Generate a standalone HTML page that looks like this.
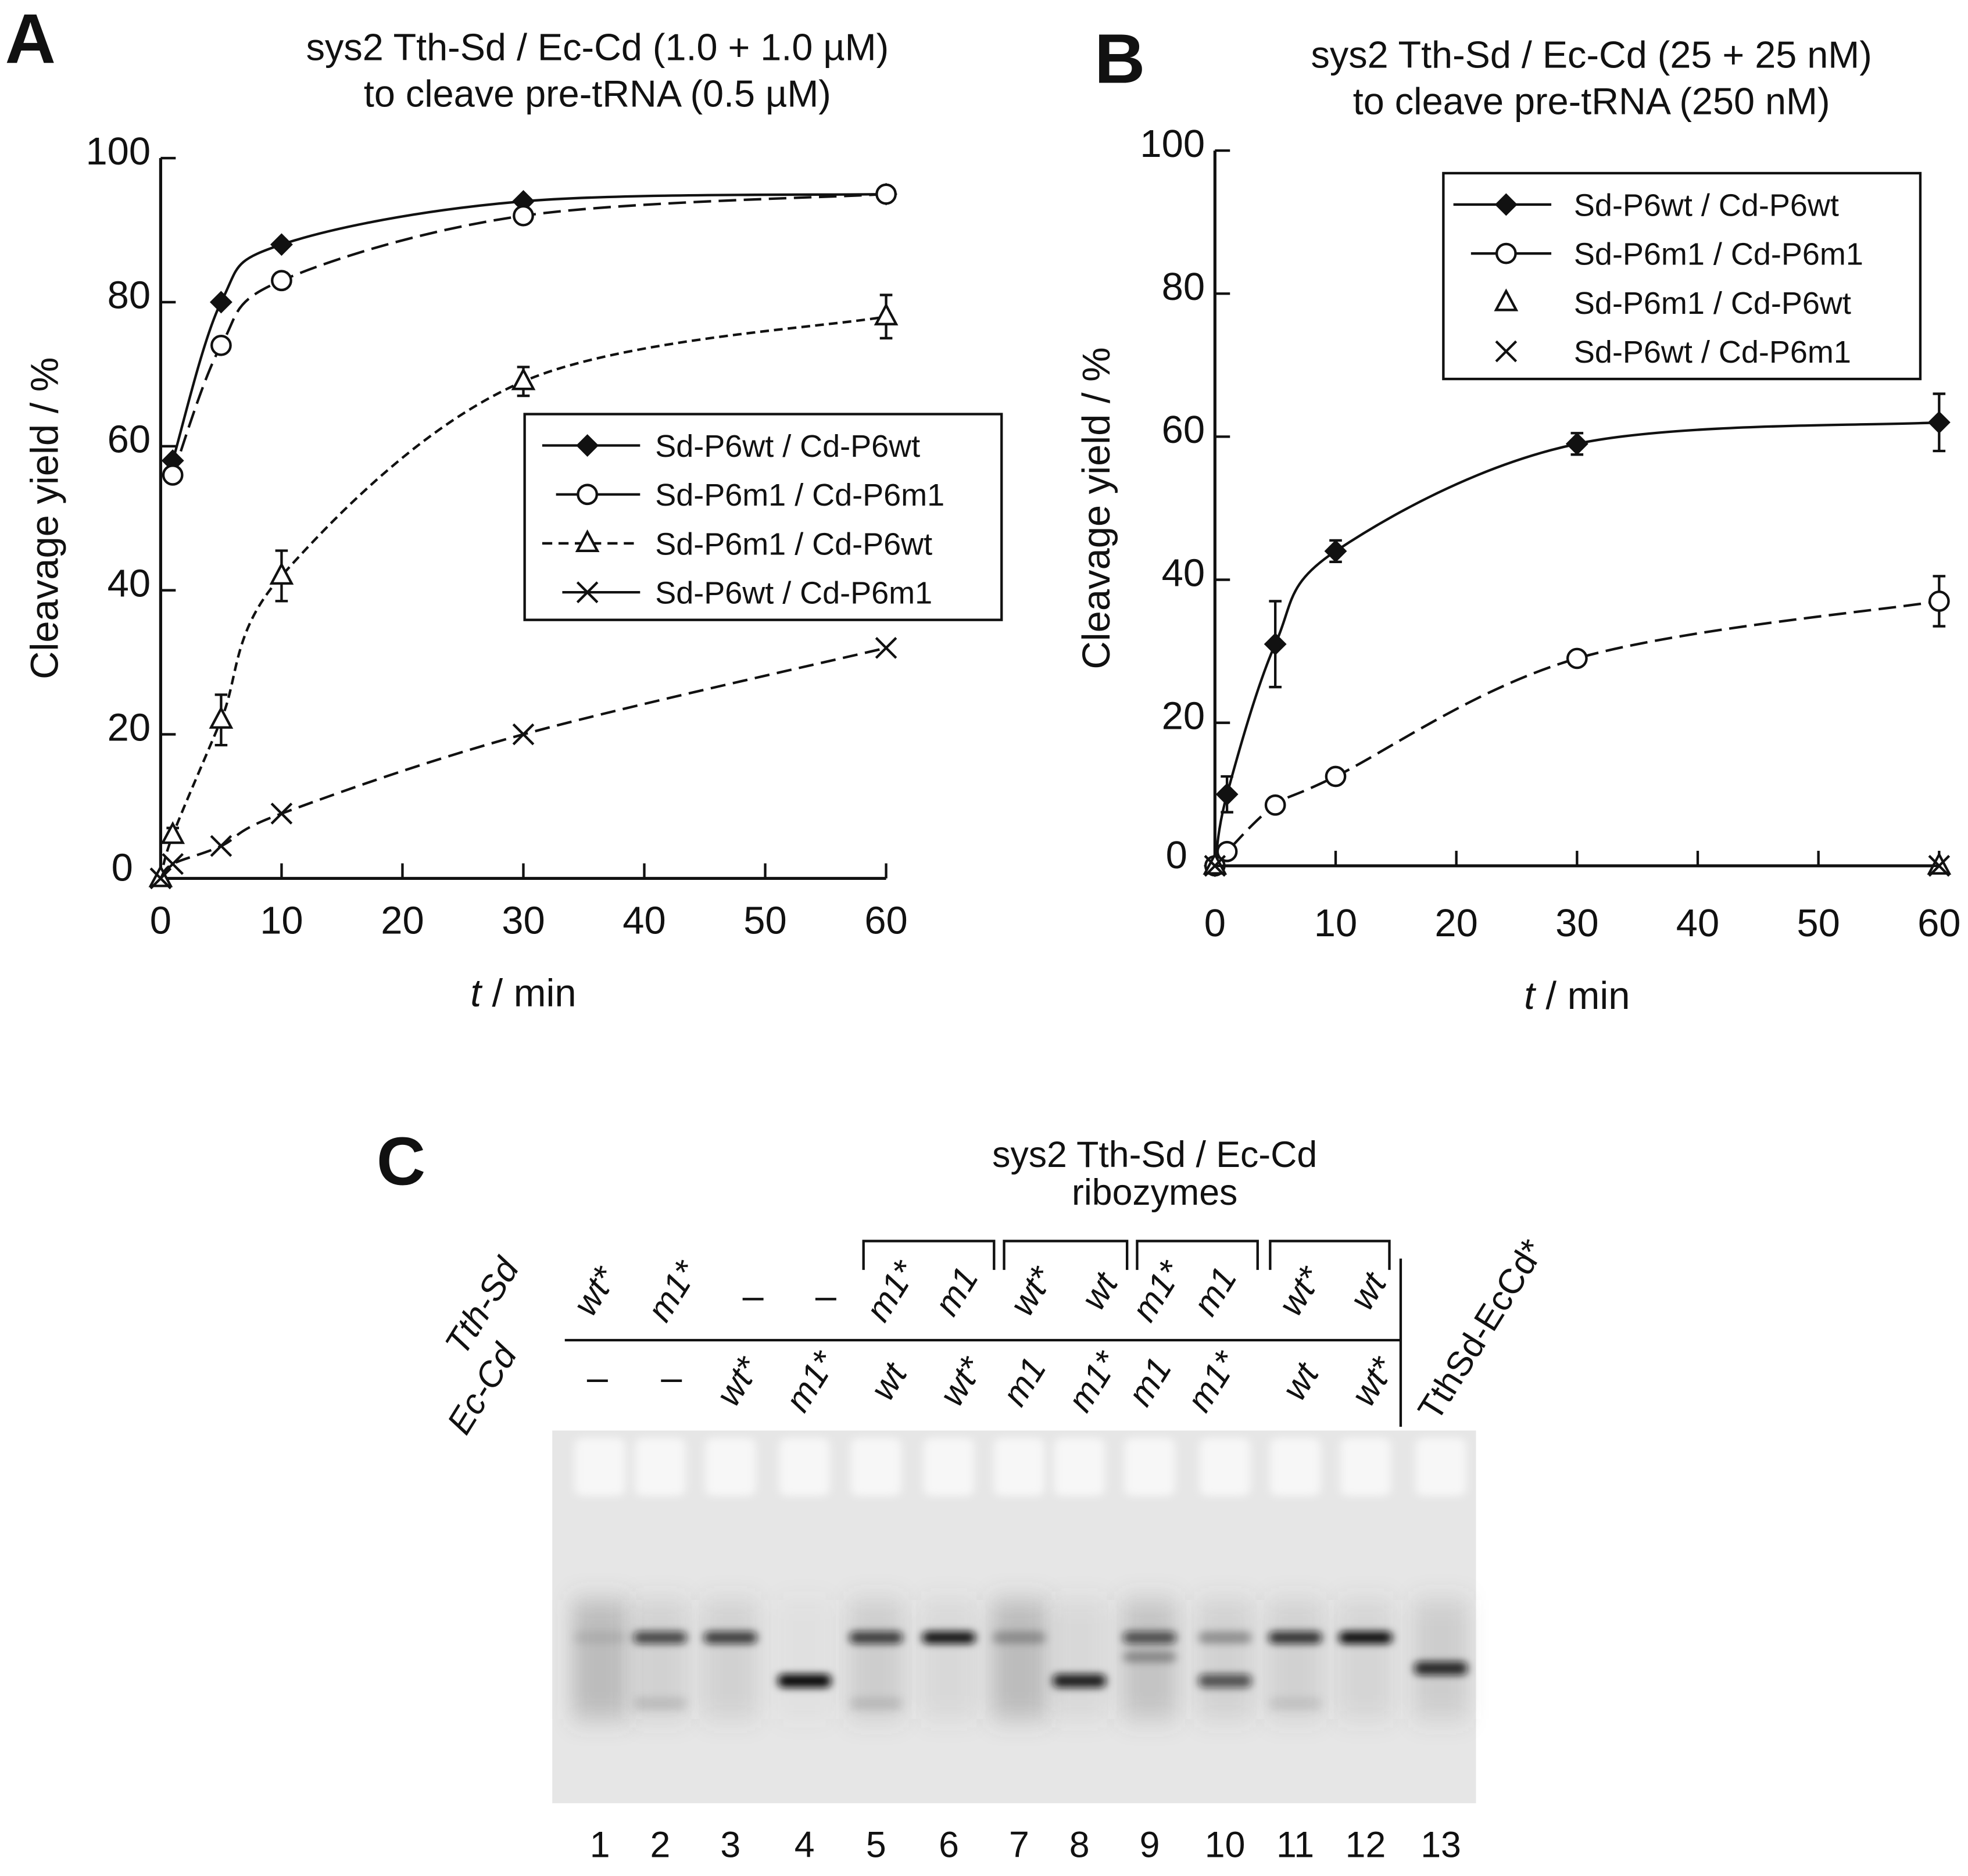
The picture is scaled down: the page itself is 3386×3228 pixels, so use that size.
<!DOCTYPE html>
<html><head><meta charset="utf-8"><style>
html,body{margin:0;padding:0;background:#fff;}
svg{display:block;}
text{font-family:"Liberation Sans",sans-serif;fill:#111;}
</style></head><body>
<svg id="fig" width="3386" height="3228" viewBox="0 0 1568 1495" preserveAspectRatio="none" xmlns="http://www.w3.org/2000/svg">
<defs>
<filter id="blur3" x="-50%" y="-200%" width="200%" height="500%"><feGaussianBlur stdDeviation="3.5 3"/></filter>
<filter id="blur8" x="-50%" y="-200%" width="200%" height="500%"><feGaussianBlur stdDeviation="8 10"/></filter>
</defs>
<g id="panelA"></g>
<g id="panelB"></g>
<g id="panelC"></g>
</svg>
<script>
// ---------- data ----------
const timesA = [0, 1, 5, 10, 30, 60];
const aWtWt = [null, 58, 80, 88, 94, 95];
const aM1M1 = [null, 56, 74, 83, 92, 95];
const aM1Wt = [0, 6, 22, 42, 69, 78];
const aM1WtErr = [0, 1, 3.5, 3.5, 2, 3];
const aWtM1 = [0, 2, 4.5, 9, 20, 32];
const timesB = [0, 1, 5, 10, 30, 60];
const bWtWt = [0, 10, 31, 44, 59, 62];
const bWtWtErr = [0, 2.5, 6, 1.5, 1.5, 4];
const bM1M1 = [0, 2, 8.5, 12.5, 29, 37];
const bM1M1Err = [0, 1, 1, 1, 1, 3.5];
const bM1Wt = [0, null, null, null, null, 0];
const bWtM1 = [0, null, null, null, null, 0];
const xTicks = [0, 10, 20, 30, 40, 50, 60];
const yTicks = [0, 20, 40, 60, 80, 100];
const legendLabels = ["Sd-P6wt / Cd-P6wt", "Sd-P6m1 / Cd-P6m1", "Sd-P6m1 / Cd-P6wt", "Sd-P6wt / Cd-P6m1"];
const laneNumbers = ["1","2","3","4","5","6","7","8","9","10","11","12","13"];
const tthLabels = ["wt*","m1*","–","–","m1*","m1","wt*","wt","m1*","m1","wt*","wt"];
const ecLabels = ["–","–","wt*","m1*","wt","wt*","m1","m1*","m1","m1*","wt","wt*"];
const upperBand = [0.08, 0.7, 0.75, 0, 0.75, 0.95, 0.25, 0, 0.65, 0.3, 0.8, 0.98, 0];
const lowerBand = [0.0, 0.1, 0, 1.0, 0.1, 0, 0.0, 0.9, 0.0, 0.65, 0.08, 0, 0.85];
const midBand = [0, 0, 0, 0, 0, 0, 0, 0, 0.3, 0, 0, 0, 0];
const smear = [0.3, 0.15, 0.15, 0.05, 0.18, 0.1, 0.3, 0.1, 0.25, 0.15, 0.15, 0.12, 0.18];

const NS = "http://www.w3.org/2000/svg";
function mk(parent, tag, attrs, txt){
  const e = document.createElementNS(NS, tag);
  for (const k in attrs) e.setAttribute(k, attrs[k]);
  if (txt !== undefined) e.textContent = txt;
  parent.appendChild(e);
  return e;
}
function smoothPath(pts){
  if (pts.length < 2) return "";
  let d = "M" + pts[0][0] + "," + pts[0][1];
  for (let i = 0; i < pts.length - 1; i++){
    const p0 = pts[Math.max(0,i-1)], p1 = pts[i], p2 = pts[i+1], p3 = pts[Math.min(pts.length-1,i+2)];
    const c1 = [p1[0] + (p2[0]-p0[0])/6, p1[1] + (p2[1]-p0[1])/6];
    const c2 = [p2[0] - (p3[0]-p1[0])/6, p2[1] - (p3[1]-p1[1])/6];
    d += " C" + c1[0] + "," + c1[1] + " " + c2[0] + "," + c2[1] + " " + p2[0] + "," + p2[1];
  }
  return d;
}
function marker(g, type, x, y){
  let e;
  if (type === "diamond") e = mk(g, "polygon", {points:`${x},${y-9} ${x+9},${y} ${x},${y+9} ${x-9},${y}`, fill:"#111"});
  else if (type === "circle") e = mk(g, "circle", {cx:x, cy:y, r:7.5, fill:"#fff", stroke:"#111", "stroke-width":2});
  else if (type === "triangle") e = mk(g, "polygon", {points:`${x},${y-9} ${x+8},${y+6} ${x-8},${y+6}`, fill:"#fff", stroke:"#111", "stroke-width":2});
  else e = mk(g, "path", {d:`M${x-8},${y-8}L${x+8},${y+8}M${x+8},${y-8}L${x-8},${y+8}`, stroke:"#111", "stroke-width":2});
  
  
}

function drawPanel(gId, cfg){
  const g = document.getElementById(gId);
  const X = t => cfg.x0 + (cfg.x1 - cfg.x0) * t / 60;
  const Y = v => cfg.y0 + (cfg.y1 - cfg.y0) * v / 100;
  const letter = mk(g, "text", {x:cfg.letterX, y:cfg.letterY, "font-size":56, "font-weight":"bold"}, cfg.letter);
  
  
  const t1 = mk(g, "text", {x:cfg.titleX, y:cfg.titleY, "font-size":30, "text-anchor":"middle"}, cfg.title1);
  
  
  const t2 = mk(g, "text", {x:cfg.titleX, y:cfg.titleY+37, "font-size":30, "text-anchor":"middle"}, cfg.title2);
  
  
  const ax = mk(g, "path", {d:`M${X(0)},${Y(100)}L${X(0)},${Y(0)}L${X(60)},${Y(0)}`, fill:"none", stroke:"#111", "stroke-width":2.4});
  
  
  yTicks.forEach(v => {
    const tk = mk(g, "line", {x1:X(0), x2:X(0)+12, y1:Y(v), y2:Y(v), stroke:"#111", "stroke-width":2});
    
    
    const tl = mk(g, "text", {x:X(0)-(v === 0 ? 22 : 8), y:Y(v)+(v === 0 ? 2 : 5), "font-size":31, "text-anchor":"end"}, String(v));
    
    
  });
  xTicks.forEach(v => {
    const tk = mk(g, "line", {x1:X(v), x2:X(v), y1:Y(0), y2:Y(0)-12, stroke:"#111", "stroke-width":2});
    
    
    const tl = mk(g, "text", {x:X(v), y:Y(0)+cfg.xLabOff, "font-size":31, "text-anchor":"middle"}, String(v));
    
    
  });
  const xt = mk(g, "text", {x:(X(0)+X(60))/2, y:Y(0)+cfg.xLabOff+58, "font-size":31, "text-anchor":"middle"});
  
  
  mk(xt, "tspan", {"font-style":"italic"}, "t");
  mk(xt, "tspan", {}, " / min");
  const yt = mk(g, "text", {x:0, y:0, "font-size":31, "text-anchor":"middle", transform:`translate(${cfg.yTitleX},${(Y(0)+Y(100))/2}) rotate(-90)`}, "Cleavage yield / %");
  
  
  cfg.series.forEach(s => {
    const sg = mk(g, "g", {});
    
    
    const pts = [];
    s.vals.forEach((v,i) => { if (v !== null) pts.push([X(s.t[i]), Y(v)]); });
    const line = mk(sg, "path", {d: s.straight ? "M"+pts.map(p=>p.join(",")).join("L") : smoothPath(pts), fill:"none", stroke:"#111", "stroke-width":2, "stroke-dasharray":s.dash||"none"});
    
    
    s.vals.forEach((v,i) => {
      if (v === null) return;
      const e = s.err ? s.err[i] : 0;
      if (e > 0.8){
        const eb = mk(sg, "path", {d:`M${X(s.t[i])},${Y(v+e)}L${X(s.t[i])},${Y(v-e)}M${X(s.t[i])-5},${Y(v+e)}L${X(s.t[i])+5},${Y(v+e)}M${X(s.t[i])-5},${Y(v-e)}L${X(s.t[i])+5},${Y(v-e)}`, stroke:"#111", "stroke-width":2});
        
        
      }
      marker(sg, s.marker, X(s.t[i]), Y(v));
    });
  });
  const lg = mk(g, "g", {});
  
  
  const box = mk(lg, "rect", {x:cfg.lx, y:cfg.ly, width:380, height:164, fill:"#fff", stroke:"#111", "stroke-width":2});
  
  
  const types = ["diamond","circle","triangle","x"];
  legendLabels.forEach((lab,i) => {
    const yy = cfg.ly + 25 + i*39;
    const eg = mk(lg, "g", {});
    
    
    if (cfg.legendLines[i]) mk(eg, "line", {x1:cfg.lx+cfg.legendLines[i][0], x2:cfg.lx+cfg.legendLines[i][1], y1:yy, y2:yy, stroke:"#111", "stroke-width":2, "stroke-dasharray":cfg.legendLines[i][2]||"none"});
    marker(eg, types[i], cfg.lx+50, yy);
    mk(eg, "text", {x:cfg.lx+104, y:yy+9, "font-size":25}, lab);
  });
}

drawPanel("panelA", {
  x0:128, x1:706, y0:700, y1:126, letter:"A", letterX:4, letterY:50, xLabOff:44,
  title1:"sys2 Tth-Sd / Ec-Cd (1.0 + 1.0 µM)", title2:"to cleave pre-tRNA (0.5 µM)", titleX:476, titleY:48, yTitleX:46,
  lx:418, ly:330,
  legendLines:[[14,92],[25,92],[14,92,"8,5"],[30,92]],
  series:[
    {name:"series-wt-wt", t:timesA, vals:aWtWt, marker:"diamond"},
    {name:"series-m1-m1", t:timesA, vals:aM1M1, marker:"circle", dash:"14,6"},
    {name:"series-m1-wt", t:timesA, vals:aM1Wt, err:aM1WtErr, marker:"triangle", dash:"7,4"},
    {name:"series-wt-m1", t:timesA, vals:aWtM1, marker:"x", dash:"12,6"}
  ]
});
drawPanel("panelB", {
  x0:968, x1:1545, y0:690, y1:120, letter:"B", letterX:872, letterY:66, xLabOff:56,
  title1:"sys2 Tth-Sd / Ec-Cd (25 + 25 nM)", title2:"to cleave pre-tRNA (250 nM)", titleX:1268, titleY:54, yTitleX:884,
  lx:1150, ly:138,
  legendLines:[[8,86],[22,86],null,null],
  series:[
    {name:"series-wt-wt", t:timesB, vals:bWtWt, err:bWtWtErr, marker:"diamond"},
    {name:"series-m1-m1", t:timesB, vals:bM1M1, err:bM1M1Err, marker:"circle", dash:"14,6"},
    {name:"series-m1-wt", t:timesB, vals:bM1Wt, marker:"triangle", straight:true},
    {name:"series-wt-m1", t:timesB, vals:bWtM1, marker:"x", straight:true}
  ]
});

(function(){
  const g = document.getElementById("panelC");
  const laneX = [478,526,582,641,698,756,812,860,916,976,1032,1088,1148];
  const topX = [478,540,600,658,714,766,826,880,926,972,1040,1094];
  const botX = [476,535,592,650,712,770,820,875,920,970,1040,1098];
  const c = mk(g, "text", {x:300, y:944, "font-size":54, "font-weight":"bold"}, "C");
  
  
  const tt = mk(g, "text", {x:920, y:930, "font-size":29, "text-anchor":"middle"}, "sys2 Tth-Sd / Ec-Cd");
  
  
  const tt2 = mk(g, "text", {x:920, y:960, "font-size":29, "text-anchor":"middle"}, "ribozymes");
  
  
  [[688,792],[800,898],[906,1002],[1012,1107]].forEach(b => {
    const br = mk(g, "path", {d:`M${b[0]},1012L${b[0]},989L${b[1]},989L${b[1]},1012`, fill:"none", stroke:"#111", "stroke-width":2});
    
    
  });
  const hl = mk(g, "line", {x1:450, x2:1116, y1:1068, y2:1068, stroke:"#111", "stroke-width":2});
  
  
  const vl = mk(g, "line", {x1:1116, x2:1116, y1:1003, y2:1137, stroke:"#111", "stroke-width":2});
  
  
  function rot(txt, x, y, name, anchor){
    const t = mk(g, "text", {x:0, y:0, "font-size":28, "font-style":"italic", "text-anchor":anchor||"middle", transform:`translate(${x},${y}) rotate(-58)`}, txt);
    
    
    return t;
  }
  rot("Tth-Sd", 392, 1046, "row-label-tth-sd");
  rot("Ec-Cd", 392, 1112, "row-label-ec-cd");
  tthLabels.forEach((l,i) => {
    if (l === "–") { const d = mk(g, "text", {x:topX[i], y:1043, "font-size":30, "text-anchor":"middle"}, "–");   }
    else rot(l, topX[i]+4, 1034, "tth-sd-label");
  });
  ecLabels.forEach((l,i) => {
    if (l === "–") { const d = mk(g, "text", {x:botX[i], y:1108, "font-size":30, "text-anchor":"middle"}, "–");   }
    else rot(l, botX[i]+4, 1106, "ec-cd-label");
  });
  const tl = mk(g, "text", {x:0, y:0, "font-size":28, "text-anchor":"start", transform:"translate(1145,1134) rotate(-58)"}, "TthSd-EcCd*");
  
  
  const gel = mk(g, "g", {});
  
  
  mk(gel, "rect", {x:440, y:1140, width:736, height:297, fill:"#e6e6e6"});
  laneX.forEach((x,i) => {
    const w = mk(gel, "rect", {x:x-20, y:1146, width:40, height:46, rx:6, fill:"#f7f7f7", filter:"url(#blur3)"});
    
    
    const lane = mk(gel, "g", {});
    
    
    mk(lane, "rect", {x:x-22, y:1275, width:44, height:95, fill:`rgba(90,90,90,${smear[i]})`, filter:"url(#blur8)"});
    if (upperBand[i] > 0) mk(lane, "rect", {x:x-21, y:1300, width:42, height:10, rx:4, fill:`rgba(10,10,10,${upperBand[i]})`, filter:"url(#blur3)"});
    if (midBand[i] > 0) mk(lane, "rect", {x:x-21, y:1316, width:42, height:9, rx:4, fill:`rgba(10,10,10,${midBand[i]})`, filter:"url(#blur3)"});
    const ly = i === 12 ? 1324 : 1334;
    if (lowerBand[i] > 0) mk(lane, "rect", {x:x-21, y: (lowerBand[i] < 0.35 ? 1352 : ly), width:42, height:11, rx:4, fill:`rgba(10,10,10,${lowerBand[i]})`, filter:"url(#blur3)"});
    const n = mk(g, "text", {x:x, y:1480, "font-size":29, "text-anchor":"middle"}, laneNumbers[i]);
    
    
  });
})();
</script>
</body></html>
